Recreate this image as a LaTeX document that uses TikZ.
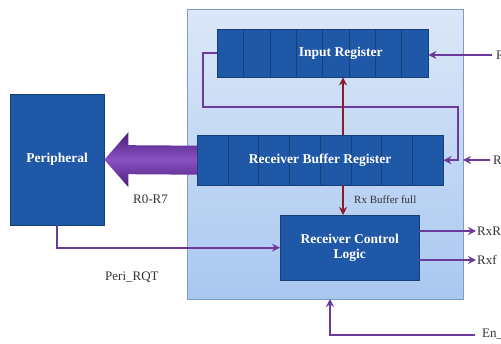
\documentclass[tikz,border=0pt]{standalone}
\usepackage{fontspec}
\setmainfont{Liberation Serif}
\usetikzlibrary{arrows.meta,calc}
\definecolor{boxblue}{HTML}{1F58A6}
\definecolor{cellline}{HTML}{163F7A}
\definecolor{sigpurple}{HTML}{6B3A9A}
\definecolor{sigred}{HTML}{8A1C2C}
\definecolor{outerborder}{HTML}{7F9CC6}
\definecolor{outertop}{HTML}{DCE7F8}
\definecolor{outerbot}{HTML}{A9C8F0}
\definecolor{arrowdark}{HTML}{4A1C78}
\definecolor{arrowlight}{HTML}{8A52C4}
\definecolor{labelgray}{HTML}{333333}
\tikzset{
  bluebox/.style={draw=cellline, fill=boxblue, inner sep=0pt, anchor=north west,
    text=white, font=\bfseries\fontsize{13.5}{15}\selectfont, align=center},
  regcells/.style={path picture={
    \foreach \i in {1,...,7}{
      \draw[cellline, line width=0.8pt]
        ($(path picture bounding box.south west)!\i/8!(path picture bounding box.south east)$) --
        ($(path picture bounding box.north west)!\i/8!(path picture bounding box.north east)$);}}},
  sig/.style={draw=sigpurple, line width=1.8pt, -{Stealth[length=8pt,width=8pt]}},
  redsig/.style={draw=sigred, line width=1.8pt, -{Stealth[length=8pt,width=8pt]}},
  lbl/.style={text=labelgray, font=\fontsize{13}{15}\selectfont, inner sep=1pt},
  smalllbl/.style={text=labelgray, font=\fontsize{11}{13}\selectfont, inner sep=1pt},
}
\begin{document}
\begin{tikzpicture}[x=1pt,y=-1pt]
\useasboundingbox (0,0) rectangle (501,344);
\fill[white] (0,0) rectangle (501,344);

% outer receiver block
\node[draw=outerborder, line width=0.8pt, top color=outertop, bottom color=outerbot,
  minimum width=276pt, minimum height=290pt, inner sep=0pt, anchor=north west] (outer) at (187,9) {};

% registers and logic
\node[bluebox, regcells, minimum width=211pt, minimum height=48pt] (inreg) at (217,29) {\hspace*{36pt}Input Register};
\node[bluebox, regcells, minimum width=246pt, minimum height=50pt] (rbr) at (197,135) {Receiver Buffer Register};
\node[bluebox, minimum width=139pt, minimum height=65pt] (rcl) at (280,215) {Receiver Control\\Logic};
\node[bluebox, minimum width=94pt, minimum height=131pt] (peri) at (10,94) {Peripheral};

% coordinates
\coordinate (lp1) at (203,107);
\coordinate (lp2) at (458,107);
\coordinate (rin1) at (492,55);
\coordinate (rin2) at (490,160);
\coordinate (rj) at (463,160);
\coordinate (redx) at (343,0);
\coordinate (o1) at (476,231);
\coordinate (o2) at (476,260);
\coordinate (en) at (475,335);
\coordinate (enx) at (330,299);

% loop from input register to buffer register
\draw[sig] (inreg.west) -| (lp1) -- (lp2) |- (rbr.east);
\draw[sig] (rin1) -- (inreg.east |- rin1);
\draw[sig] (rin2) -- (rj);
\node[lbl, anchor=west] (lr1) at (495,55) {R};
\node[lbl, anchor=west] (lr2) at (492,160) {R};

% red data paths
\draw[redsig] (rbr.north -| redx) -- (inreg.south -| redx);
\draw[redsig] (rbr.south -| redx) -- (rcl.north -| redx);
\node[smalllbl, anchor=west] (rxbf) at (353,200) {Rx Buffer full};

% outputs of control logic
\draw[sig] (rcl.east |- o1) -- (o1);
\draw[sig] (rcl.east |- o2) -- (o2);
\node[lbl, anchor=west] (lo1) at (o1) {RxR};
\node[lbl, anchor=west] (lo2) at (o2) {Rxf};

% enable input
\draw[sig] (en) -| (enx);
\node[lbl, anchor=west] (len) at (481,334) {En\_};

% peripheral request
\draw[sig] (peri.south) |- (rcl.west);
\node[lbl, anchor=west] (lpr) at (104,277) {Peri\_RQT};

% big bus arrow R0-R7
\shade[top color=arrowdark, bottom color=arrowdark, middle color=arrowlight]
  ($(rbr.west)+(0,-14.5)$) -- ($(peri.east)+(24,-14.5)$) -- ($(peri.east)+(24,-27.5)$) --
  (peri.east) -- ($(peri.east)+(24,27.5)$) -- ($(peri.east)+(24,14.5)$) --
  ($(rbr.west)+(0,14.5)$) -- cycle;
\node[lbl, anchor=west] (lbus) at (132,199) {R0-R7};
\end{tikzpicture}
\end{document}
